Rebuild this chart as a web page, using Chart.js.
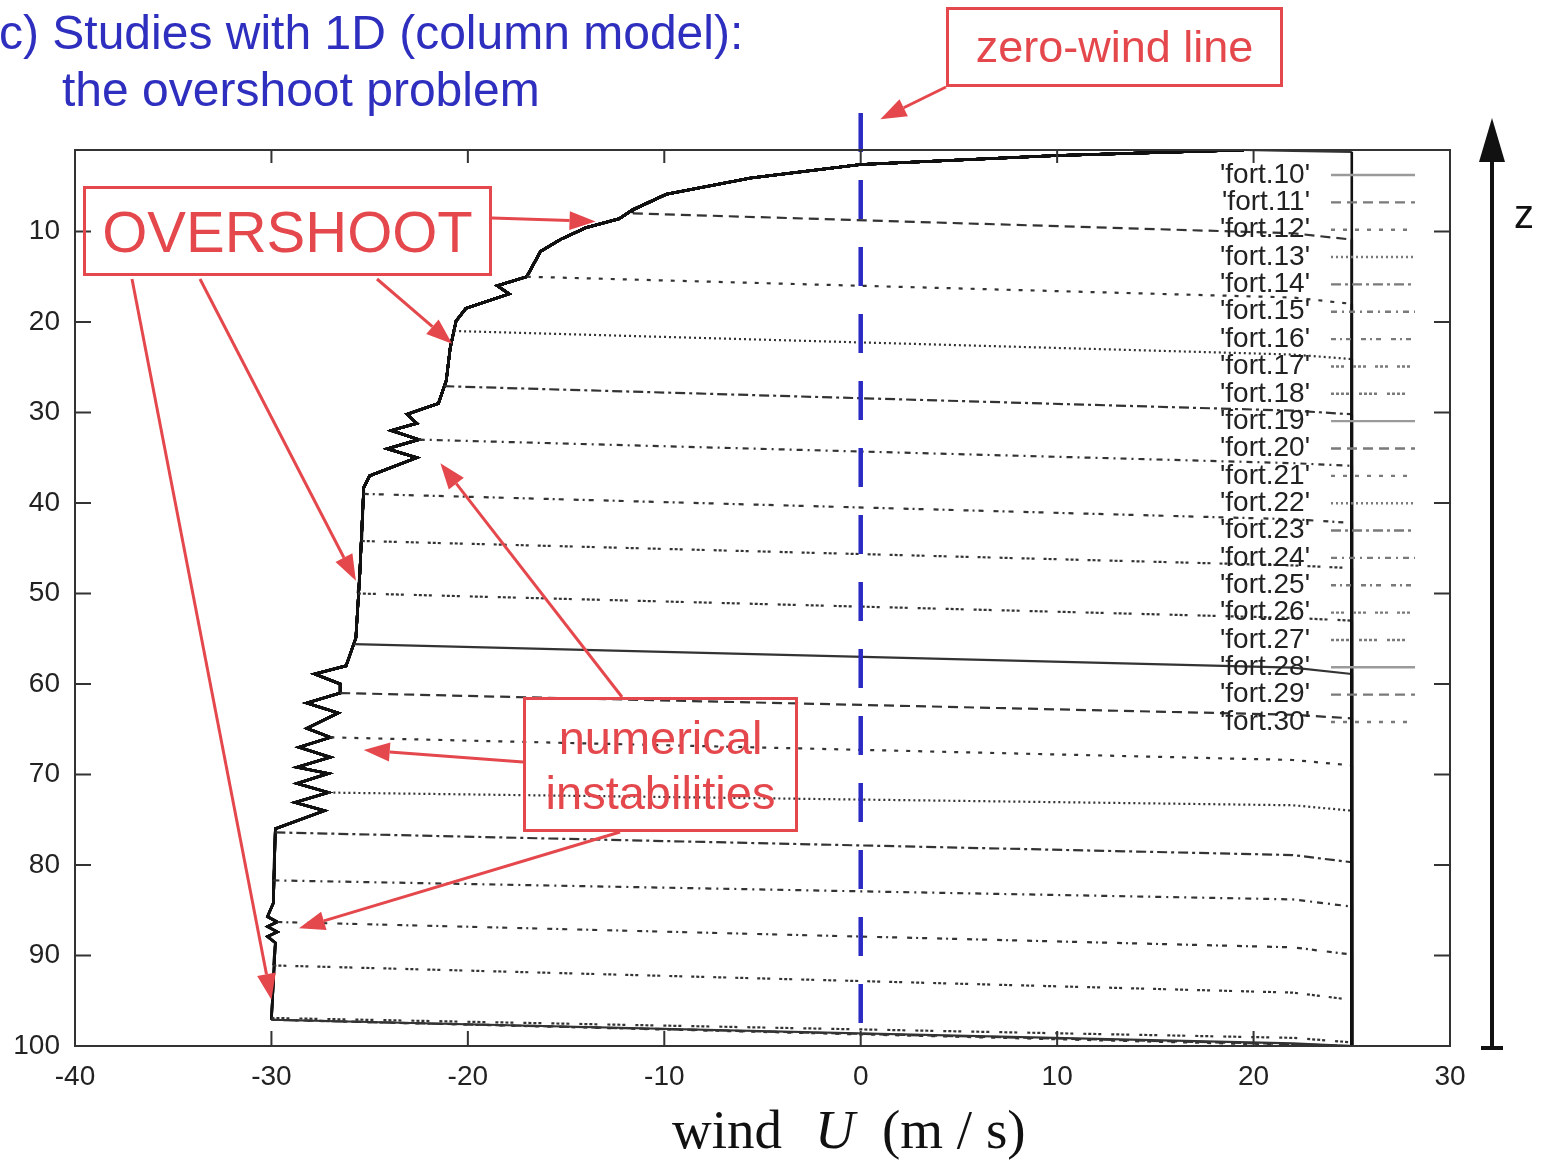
<!DOCTYPE html>
<html>
<head>
<meta charset="utf-8">
<script src="https://cdn.jsdelivr.net/npm/chart.js@4.4.1/dist/chart.umd.min.js"></script>
<style>
  body { margin: 0; background: #fff; }
  #wrap { position: relative; width: 1543px; height: 1161px; overflow: hidden; font-family: 'Liberation Sans', Arial, sans-serif; }
  #windChart { position: absolute; left: 0; top: 0; }
  .txt { position: absolute; white-space: nowrap; }
  .title { color: #2e2ebf; font-size: 48px; line-height: 48px; }
  .note { position: absolute; box-sizing: border-box; border: 3px solid #e4474c; color: #e4474c;
          display: flex; flex-direction: column; align-items: center; justify-content: center; white-space: nowrap; }
  .serif { font-family: 'Liberation Serif', 'Times New Roman', serif; font-size: 55px; line-height: 55px; color: #111; }
</style>
</head>
<body>
<div id="wrap">
  <canvas id="windChart" width="1543" height="1161"></canvas>
  <div class="txt title" style="left:-1px; top:9px">c) Studies with 1D (column model):</div>
  <div class="txt title" style="left:62px; top:66px">the overshoot problem</div>
  <div class="note" style="left:946px; top:7px; width:337px; height:80px; font-size:45px">zero-wind line</div>
  <div class="note" style="left:83px; top:186px; width:409px; height:90px; font-size:58px">OVERSHOOT</div>
  <div class="note" style="left:523px; top:697px; width:275px; height:135px; font-size:47px; line-height:55px"><span>numerical</span><span>instabilities</span></div>
  <div class="txt serif" style="left:672px; top:1102px">wind</div>
  <div class="txt serif" style="left:815px; top:1102px; font-style:italic">U</div>
  <div class="txt serif" style="left:882px; top:1102px">(m / s)</div>
  <div class="txt" style="left:1514px; top:192px; font-size:40px; color:#111">z</div>
</div>
<script>
// model output files, one wind profile each
const runNames = ['fort.10', 'fort.11', 'fort.12', 'fort.13', 'fort.14', 'fort.15', 'fort.16',
  'fort.17', 'fort.18', 'fort.19', 'fort.20', 'fort.21', 'fort.22', 'fort.23', 'fort.24',
  'fort.25', 'fort.26', 'fort.27', 'fort.28', 'fort.29', 'fort.30'];

// common upper part of the profiles (wind in m/s, level z)
const envWind = [19.5, 10.0, 0.0, -5.6, -9.9, -11.6, -12.3, -14.0, -15.3, -16.3, -17.0, -18.5, -17.9,
  -20.1, -20.6, -20.9, -21.1, -21.5, -23.1, -22.6, -23.9, -22.5, -24.1, -22.6, -25.0, -25.3, -25.5,
  -25.7, -26.2, -27.8, -26.5, -26.5, -28.2, -26.6, -28.2, -27.0, -28.6, -27.0, -28.7, -27.1, -28.7,
  -27.1, -28.8, -27.3, -29.8, -29.9, -30.2, -29.7, -30.2, -29.7, -30.2, -29.8, -30.0];
const envZ = [1.0, 1.6, 2.6, 4.1, 5.9, 7.6, 8.6, 9.6, 10.9, 12.2, 15.0, 16.0, 16.9,
  18.5, 19.9, 22.9, 26.5, 29.0, 30.2, 31.2, 32.0, 33.0, 34.0, 35.0, 37.0, 38.3, 47.8,
  54.9, 58.0, 58.9, 60.0, 61.0, 62.1, 63.2, 64.9, 65.9, 67.0, 68.1, 69.2, 69.9, 71.0,
  72.0, 73.1, 74.0, 76.0, 84.2, 85.7, 86.3, 86.8, 87.4, 87.9, 88.6, 97.1];

// where each profile leaves the common part and crosses back to the 25 m/s column
const jumpWind = [19.5, -11.6, -17.0, -20.7, -21.2, -22.5, -25.3, -25.4, -25.6, -25.8, -26.5,
  -27.0, -27.1, -29.8, -29.9, -29.7, -29.9, -30.0, -30.0, -30.0, -30.0];
const jumpZ = [1.0, 8.0, 15.0, 21.0, 27.1, 33.0, 39.0, 44.2, 50.0, 55.6, 61.0,
  65.9, 72.0, 76.4, 81.7, 86.3, 91.1, 96.9, 97.1, 97.1, 97.1];
const sagWind = 22;     // wind where the crossing starts to bend down
const sagZ = [1.1, 10.2, 17.3, 23.6, 29.8, 35.6, 41.8, 46.9, 52.7, 58.2, 63.4,
  68.4, 73.4, 78.9, 83.8, 89.1, 94.1, 99.1, 99.7, 99.8, 99.9];
const edgeWind = 25;    // lower-layer wind
const edgeZ = [1.2, 10.9, 18.0, 24.1, 30.2, 35.9, 42.2, 47.2, 53.0, 58.9, 63.8,
  69.0, 74.0, 79.7, 84.6, 89.9, 94.9, 99.6, 100, 100, 100];
const zBottom = 100;

const xTicks = [-40, -30, -20, -10, 0, 10, 20, 30];
const yTicks = [10, 20, 30, 40, 50, 60, 70, 80, 90, 100];

// gnuplot line types cycle every 9 files
const lineTypes = [
  [], [10, 6], [4, 8], [2, 3], [10, 4, 3, 4], [6, 5, 2, 5],
  [5, 4, 2, 4, 5, 10], [3, 2, 3, 2, 3, 9], [3, 2, 3, 2, 3, 2, 3, 10]
];

function buildProfile(i) {
  const pts = [];
  envZ.forEach((z, k) => {
    if (z < jumpZ[i]) pts.push({ x: envWind[k], y: z });
  });
  const start = pts.length;
  pts.push({ x: jumpWind[i], y: jumpZ[i] });
  pts.push({ x: sagWind, y: sagZ[i] });
  pts.push({ x: edgeWind, y: edgeZ[i] });
  pts.push({ x: edgeWind, y: zBottom });
  return { pts, start };
}

const datasets = runNames.map((name, i) => {
  const p = buildProfile(i);
  const dash = lineTypes[i % 9];
  const onJump = ctx => ctx.p0DataIndex >= p.start && ctx.p0DataIndex < p.start + 2;
  return {
    label: name,
    data: p.pts,
    showLine: true,
    pointRadius: 0,
    borderColor: '#111',
    borderWidth: 2.6,
    lineDash: dash,
    segment: {
      borderColor: ctx => onJump(ctx) ? '#333' : undefined,
      borderWidth: ctx => onJump(ctx) ? 2.2 : undefined,
      borderDash: ctx => onJump(ctx) ? dash : undefined
    }
  };
});

// callout arrows: start on the boxes, tip on the data
const callFrom = [[492, 218], [377, 279], [200, 279], [132, 279], [622, 697], [523, 762], [620, 832], [946, 87]];
const callTip = [[-13.5, 8.9], [-20.8, 22.4], [-25.7, 48.6], [-30.0, 94.9], [-21.4, 35.6], [-25.3, 67.3], [-28.6, 87.0], [1.0, -2.4]];

function drawArrow(ctx, x0, y0, x1, y1, head, width) {
  const a = Math.atan2(y1 - y0, x1 - x0);
  const bx = x1 - head * Math.cos(a), by = y1 - head * Math.sin(a);
  ctx.beginPath();
  ctx.moveTo(x0, y0);
  ctx.lineTo(bx, by);
  ctx.stroke();
  ctx.beginPath();
  ctx.moveTo(x1, y1);
  ctx.lineTo(bx + width / 2 * Math.sin(a), by - width / 2 * Math.cos(a));
  ctx.lineTo(bx - width / 2 * Math.sin(a), by + width / 2 * Math.cos(a));
  ctx.closePath();
  ctx.fill();
}

const framePlugin = {
  id: 'frame',
  afterDatasetsDraw(chart) {
    const { ctx, chartArea: a, scales: { x, y } } = chart;
    ctx.save();

    // zero-wind line
    const x0 = x.getPixelForValue(0);
    ctx.strokeStyle = '#2b2bc4';
    ctx.lineWidth = 4.5;
    ctx.setLineDash([39, 28]);
    ctx.beginPath();
    ctx.moveTo(x0, y.getPixelForValue(-3.1));
    ctx.lineTo(x0, y.getPixelForValue(97.9));
    ctx.stroke();
    ctx.setLineDash([]);

    // border with inward ticks
    ctx.strokeStyle = '#333';
    ctx.lineWidth = 2;
    ctx.strokeRect(a.left, a.top, a.right - a.left, a.bottom - a.top);
    ctx.beginPath();
    xTicks.forEach(v => {
      const px = x.getPixelForValue(v);
      ctx.moveTo(px, a.bottom); ctx.lineTo(px, a.bottom - 15);
      ctx.moveTo(px, a.top); ctx.lineTo(px, a.top + 13);
    });
    yTicks.forEach(v => {
      const py = y.getPixelForValue(v);
      ctx.moveTo(a.left, py); ctx.lineTo(a.left + 16, py);
      ctx.moveTo(a.right, py); ctx.lineTo(a.right - 16, py);
    });
    ctx.stroke();

    // key
    ctx.font = "28px 'Liberation Sans', Arial, sans-serif";
    ctx.textAlign = 'right';
    ctx.textBaseline = 'middle';
    chart.data.datasets.forEach((ds, i) => {
      const ky = 175 + i * 27.35;
      ctx.fillStyle = '#222';
      ctx.fillText("'" + ds.label + "'", 1310, ky);
      ctx.strokeStyle = ds.lineDash.length ? '#7a7a7a' : '#9a9a9a';
      ctx.lineWidth = 2.4;
      ctx.setLineDash(ds.lineDash);
      ctx.beginPath();
      ctx.moveTo(1331, ky);
      ctx.lineTo(1415, ky);
      ctx.stroke();
    });
    ctx.setLineDash([]);

    // callouts
    ctx.strokeStyle = '#e4474c';
    ctx.fillStyle = '#e4474c';
    ctx.lineWidth = 3;
    callFrom.forEach((f, i) => {
      const tx = x.getPixelForValue(callTip[i][0]);
      const ty = y.getPixelForValue(callTip[i][1]);
      drawArrow(ctx, f[0], f[1], tx, ty, 26, 19);
    });

    // height axis arrow
    ctx.strokeStyle = '#111';
    ctx.fillStyle = '#111';
    ctx.lineWidth = 4;
    drawArrow(ctx, 1492, 1048, 1492, 118, 44, 26);
    ctx.beginPath();
    ctx.moveTo(1481, 1048);
    ctx.lineTo(1503, 1048);
    ctx.stroke();

    ctx.restore();
  }
};

const tickFont = { family: "'Liberation Sans', Arial, sans-serif", size: 28 };

new Chart(document.getElementById('windChart'), {
  type: 'scatter',
  data: { datasets },
  options: {
    responsive: false,
    animation: false,
    events: [],
    layout: { padding: { top: 150, right: 93, left: 0, bottom: 0 } },
    plugins: { legend: { display: false }, tooltip: { enabled: false } },
    scales: {
      x: {
        type: 'linear', min: -40, max: 30,
        grid: { display: false, drawTicks: false },
        border: { display: false },
        ticks: { font: tickFont, color: '#222', padding: 14, maxRotation: 0 },
        afterBuildTicks: s => { s.ticks = xTicks.map(value => ({ value })); },
        afterFit: s => { s.height = 115; }
      },
      y: {
        type: 'linear', reverse: true, min: 1, max: 100,
        grid: { display: false, drawTicks: false },
        border: { display: false },
        ticks: { font: tickFont, color: '#222', padding: 15 },
        afterBuildTicks: s => { s.ticks = yTicks.map(value => ({ value })); },
        afterFit: s => { s.width = 75; }
      }
    }
  },
  plugins: [framePlugin]
});
</script>
</body>
</html>
